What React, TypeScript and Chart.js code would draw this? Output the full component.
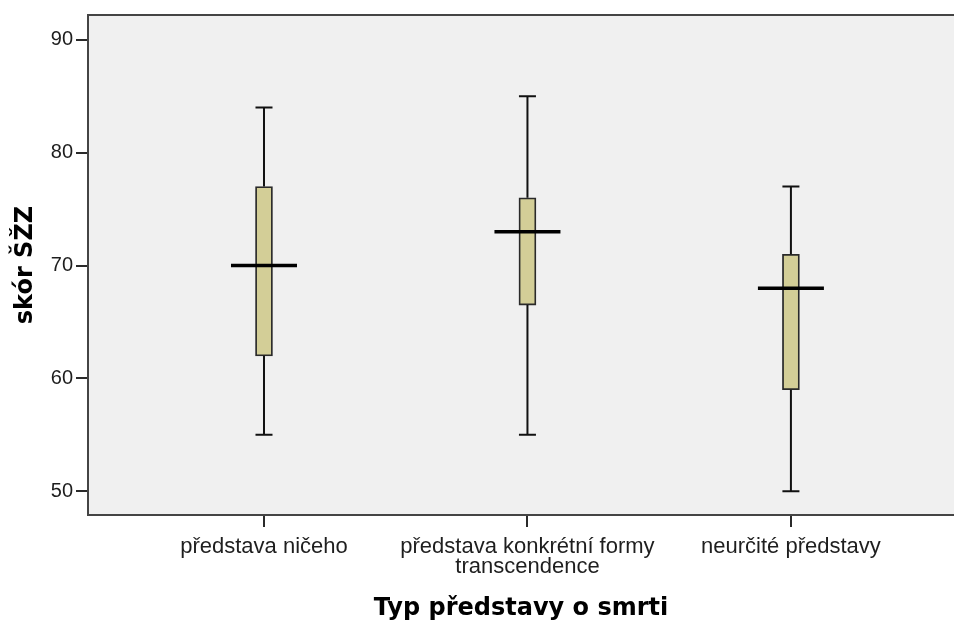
import React, { useEffect, useRef } from 'react';
import { Chart, registerables } from 'chart.js';

Chart.register(...registerables);

// ---- data ----
const categories = ['představa ničeho', 'představa konkrétní formy transcendence', 'neurčité představy'];
const tickLabels = [['představa ničeho'], ['představa konkrétní formy', 'transcendence'], ['neurčité představy']];
const whiskerLow = [55, 55, 50];
const quartile1 = [62, 66.5, 59];
const medians = [70, 73, 68];
const quartile3 = [77, 76, 71];
const whiskerHigh = [84, 85, 77];
const yTickValues = [50, 60, 70, 80, 90];
const positions = categories.map((_, i) => i + 1);

const BOX_FILL = '#d3ce97';
const LINE = '#2a2a2a';
const FRAME = '#444444';

export default function App() {
  const ref = useRef<HTMLCanvasElement>(null);

  useEffect(() => {
    const boxParts = {
      id: 'boxParts',
      beforeDraw(chart: any) {
        const { ctx, chartArea: a } = chart;
        ctx.save();
        ctx.fillStyle = '#ffffff';
        ctx.fillRect(0, 0, chart.width, chart.height);
        ctx.fillStyle = '#f0f0f0';
        ctx.fillRect(a.left, a.top, a.right - a.left, a.bottom - a.top);
        ctx.restore();
      },
      afterDatasetsDraw(chart: any) {
        const { ctx } = chart;
        const xs = chart.scales.x;
        const ys = chart.scales.y;
        ctx.save();
        ctx.lineCap = 'butt';
        positions.forEach((p, i) => {
          const x = xs.getPixelForValue(p);
          const capHalf = 8.5;
          ctx.strokeStyle = '#111';
          ctx.lineWidth = 2;
          ctx.beginPath();
          ctx.moveTo(x, ys.getPixelForValue(quartile3[i]));
          ctx.lineTo(x, ys.getPixelForValue(whiskerHigh[i]));
          ctx.moveTo(x, ys.getPixelForValue(quartile1[i]));
          ctx.lineTo(x, ys.getPixelForValue(whiskerLow[i]));
          ctx.stroke();
          ctx.beginPath();
          const yh = ys.getPixelForValue(whiskerHigh[i]);
          const yl = ys.getPixelForValue(whiskerLow[i]);
          ctx.moveTo(x - capHalf, yh);
          ctx.lineTo(x + capHalf, yh);
          ctx.moveTo(x - capHalf, yl);
          ctx.lineTo(x + capHalf, yl);
          ctx.stroke();
          const ym = ys.getPixelForValue(medians[i]);
          ctx.strokeStyle = '#000';
          ctx.lineWidth = 3.5;
          ctx.beginPath();
          ctx.moveTo(x - 33, ym);
          ctx.lineTo(x + 33, ym);
          ctx.stroke();
        });
        ctx.restore();
      },
      afterDraw(chart: any) {
        const { ctx, chartArea: a } = chart;
        ctx.save();
        ctx.strokeStyle = FRAME;
        ctx.lineWidth = 2;
        ctx.beginPath();
        ctx.moveTo(a.left - 1, a.top);
        ctx.lineTo(a.right, a.top);
        ctx.stroke();
        ctx.restore();
      },
    };

    const chart = new Chart(ref.current as HTMLCanvasElement, {
      type: 'bar',
      data: {
        datasets: [
          {
            label: 'box',
            data: positions.map((x, i) => ({ x, y: [quartile1[i], quartile3[i]] })) as any,
            backgroundColor: BOX_FILL,
            borderColor: LINE,
            borderWidth: 1.8,
            borderSkipped: false,
            barThickness: 17,
          },
        ],
      },
      options: {
        animation: false,
        responsive: false,
        events: [],
        layout: { padding: { top: 15, left: 0, right: 0, bottom: 0 } },
        plugins: { legend: { display: false }, tooltip: { enabled: false } },
        scales: {
          x: {
            type: 'linear',
            offset: false,
            min: 0.332,
            max: 3.619,
            afterBuildTicks: (scale: any) => {
              scale.ticks = positions.map((v) => ({ value: v }));
            },
            afterFit: (scale: any) => {
              scale.height = 111;
            },
            ticks: {
              autoSkip: false,
              maxRotation: 0,
              padding: 10,
              color: '#1e1e1e',
              font: { family: 'Liberation Sans, Arial, sans-serif', size: 22, lineHeight: '20px' as any },
              callback: (v: any) => tickLabels[Math.round(v) - 1] as any,
            },
            grid: {
              display: true,
              offset: false,
              drawOnChartArea: false,
              drawTicks: true,
              tickLength: 12,
              color: LINE,
              lineWidth: 2,
            },
            border: { display: true, color: FRAME, width: 2 },
            title: {
              display: true,
              text: 'Typ představy o smrti',
              color: '#000',
              font: { family: 'DejaVu Sans', weight: 'bold', size: 24, lineHeight: 1.2 },
              padding: { top: 0, bottom: 3 },
            },
          },
          y: {
            type: 'linear',
            min: 47.9,
            max: 92.2,
            afterBuildTicks: (scale: any) => {
              scale.ticks = yTickValues.map((v) => ({ value: v }));
            },
            afterFit: (scale: any) => {
              scale.width = 88;
            },
            ticks: {
              padding: 3,
              color: '#1e1e1e',
              font: { family: 'Liberation Sans, Arial, sans-serif', size: 20 },
            },
            grid: {
              display: true,
              drawOnChartArea: false,
              drawTicks: true,
              tickLength: 12,
              color: LINE,
              lineWidth: 2,
            },
            border: { display: true, color: FRAME, width: 2 },
            title: {
              display: true,
              text: 'skór ŠŽZ',
              color: '#000',
              font: { family: 'DejaVu Sans', weight: 'bold', size: 24, lineHeight: 1.2 },
              padding: { top: 11, bottom: 0 },
            },
          },
        },
      },
      plugins: [boxParts],
    });
    return () => chart.destroy();
  }, []);

  return (
    <div style={{ position: 'absolute', left: 0, top: 0, width: 954, height: 626 }}>
      <canvas ref={ref} width={954} height={626} style={{ display: 'block' }} />
    </div>
  );
}
